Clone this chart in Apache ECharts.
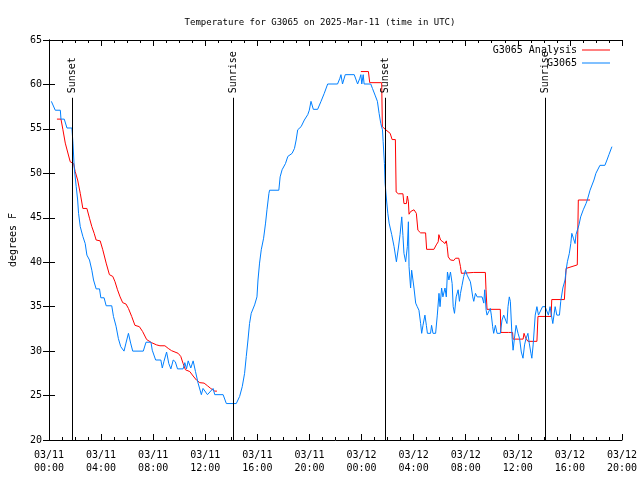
<!DOCTYPE html>
<html>
<head>
<meta charset="utf-8">
<script src="https://cdn.jsdelivr.net/npm/echarts@6/dist/echarts.min.js"></script>
<style>html,body{margin:0;padding:0;background:#fff}#c{width:640px;height:480px}</style>
</head>
<body>
<div id="c"></div>
<script>
// Hours since 2025-03-11 00:00 UTC
var blueHours = [0.18,0.48,0.87,0.92,1.17,1.38,1.76,1.84,1.94,2.09,2.2,2.27,2.4,2.6,2.78,2.91,3.11,3.29,3.42,3.62,3.88,3.98,4.23,4.39,4.82,4.95,5.15,5.33,5.51,5.76,5.91,6.1,6.27,6.43,7.24,7.45,7.83,7.93,8.19,8.59,8.7,8.82,9.03,9.2,9.36,9.54,9.7,9.87,10.3,10.43,10.56,10.69,10.89,11.07,11.25,11.45,11.7,11.83,12.17,12.6,12.73,13.37,13.62,14.38,14.64,14.84,15.02,15.15,15.28,15.4,15.53,15.79,15.97,16.05,16.17,16.3,16.48,16.63,16.74,16.89,16.94,17.65,17.75,17.9,18.16,18.34,18.67,18.85,18.98,19.1,19.36,19.61,19.87,19.99,20.12,20.3,20.63,20.89,21.14,21.4,22.16,22.34,22.42,22.54,22.75,23.44,23.7,23.87,23.95,24.02,24.13,24.2,24.71,24.84,25.04,25.22,25.35,25.48,25.61,25.66,25.76,25.81,25.92,26.02,26.12,26.32,26.5,26.68,26.83,26.96,27.09,27.18,27.26,27.39,27.52,27.6,27.65,27.77,27.85,27.95,28.03,28.16,28.28,28.41,28.54,28.62,28.72,28.87,28.98,29.06,29.3,29.38,29.49,29.69,29.82,29.95,30.03,30.15,30.25,30.41,30.51,30.6,30.71,30.83,30.96,31.04,31.14,31.27,31.42,31.52,31.6,31.72,31.85,31.98,32.11,32.36,32.44,32.54,32.62,32.75,32.88,33.26,33.39,33.46,33.57,33.64,33.89,33.97,34.07,34.15,34.28,34.41,34.66,34.79,34.92,35.05,35.17,35.25,35.35,35.43,35.56,35.64,35.74,35.87,36.02,36.14,36.27,36.4,36.52,36.63,36.78,36.88,37.01,37.08,37.18,37.34,37.47,37.59,37.9,38.1,38.35,38.48,38.69,38.87,39.0,39.2,39.3,39.46,39.63,39.71,39.81,39.96,40.07,40.15,40.27,40.4,40.47,40.57,40.7,40.83,41.03,41.24,41.34,41.55,41.85,42.0,42.31,42.69,42.85,43.0,43.23];
var blueTemps = [58.1,57.1,57.1,56.1,56.1,55.1,55.1,53.4,50.6,48.5,47.0,45.5,44.0,42.9,42.1,40.8,40.25,39.1,38.0,37.0,37.0,36.0,36.0,35.1,35.1,33.9,32.8,31.4,30.5,30.0,30.9,32.0,30.9,30.0,30.0,31.0,31.0,30.1,29.0,29.0,28.1,28.8,29.9,28.6,28.0,29.0,28.8,28.0,28.0,28.7,28.0,28.9,28.1,28.9,27.7,26.4,25.1,25.8,25.1,25.8,25.1,25.1,24.1,24.1,24.9,26.0,27.5,29.4,31.25,33.1,34.25,35.2,36.1,38.0,39.9,41.4,42.7,44.4,45.9,47.75,48.1,48.1,49.6,50.4,51.1,51.9,52.25,52.8,53.75,54.9,55.25,56.0,56.6,57.1,58.1,57.2,57.2,58.1,59.0,60.05,60.05,60.7,61.1,60.05,61.1,61.1,60.05,60.7,61.1,60.05,61.1,60.05,60.05,59.55,58.8,58.1,56.75,55.6,54.9,53.6,51.1,48.9,47.0,45.5,44.4,43.1,41.75,40.05,41.6,43.1,45.1,43.0,41.0,40.05,41.75,44.55,39.5,37.1,39.1,38.0,37.1,35.4,35.0,34.6,33.1,32.0,32.9,34.05,32.9,32.0,32.0,32.9,32.0,32.0,34.05,36.5,35.0,37.1,36.1,37.1,36.1,38.9,38.0,38.9,37.6,35.0,34.25,36.1,36.9,35.6,36.5,37.4,38.4,39.1,38.55,37.8,37.1,36.1,35.6,36.5,36.1,36.1,35.4,36.9,34.6,34.05,34.8,34.05,32.75,32.0,32.9,32.0,32.0,33.5,34.05,33.9,33.1,35.0,36.1,35.6,31.6,30.1,31.4,32.9,32.0,31.4,29.9,29.2,30.7,31.4,32.0,30.9,29.75,29.2,30.7,34.05,35.0,34.05,35.0,35.0,34.05,35.0,33.1,35.0,34.05,34.05,35.6,37.1,38.0,39.1,40.05,41.0,42.1,43.25,42.7,42.1,43.1,43.25,44.2,45.1,45.9,46.6,47.0,48.1,49.25,50.0,50.9,50.9,51.5,52.1,53.0];

var redHours = [0.61,0.92,1.07,1.25,1.43,1.63,1.89,2.01,2.2,2.4,2.6,2.91,3.11,3.29,3.47,3.62,3.93,4.13,4.39,4.64,4.9,5.07,5.26,5.46,5.66,5.91,6.1,6.35,6.6,6.94,7.19,7.5,7.88,8.26,8.52,8.9,9.16,9.41,9.92,10.12,10.3,10.48,10.81,11.07,11.32,11.58,11.91,12.17,12.42,12.73,12.9,
  18.0,
  23.95,24.53,24.63,25.55,25.6,25.86,26.2,26.35,26.6,26.66,26.83,27.18,27.26,27.45,27.52,27.6,27.65,27.77,27.9,28.03,28.21,28.33,28.54,28.92,29.0,29.56,29.74,29.89,29.94,30.07,30.25,30.41,30.51,30.58,30.66,30.83,31.09,31.22,31.47,31.6,31.67,32.62,33.51,33.56,33.64,34.66,34.7,35.28,35.6,35.64,36.41,36.48,36.6,36.78,37.47,37.55,38.56,38.61,39.58,39.71,39.81,40.57,40.65,41.55];
var redTemps = [56.1,56.1,54.9,53.4,52.4,51.3,51.1,50.2,49.25,47.75,46.05,46.05,44.95,44.0,43.25,42.5,42.4,41.4,39.9,38.6,38.4,37.8,36.9,36.1,35.45,35.3,34.8,33.9,32.9,32.75,32.2,31.3,30.95,30.7,30.6,30.6,30.3,30.05,29.75,29.4,28.6,27.9,27.7,27.2,26.75,26.45,26.4,26.1,25.8,25.5,25.5,
  null,
  61.45,61.45,60.2,60.2,55.25,54.9,54.5,53.8,53.8,47.9,47.7,47.7,46.6,46.6,47.45,46.8,45.4,45.7,45.5,45.9,45.5,43.6,43.3,43.3,41.45,41.45,41.95,42.3,43.1,42.5,42.3,42.1,42.4,41.75,40.6,40.25,40.2,40.45,40.45,39.5,38.75,38.85,38.85,36.9,34.7,34.7,32.1,32.1,32.1,31.35,31.35,32.0,31.5,31.1,31.1,33.9,33.9,35.8,35.8,39.3,39.5,39.7,47.0,47.0];

var sunHours = [1.76, 14.18, 25.81, 38.13];
var sunLabels = ['Sunset', 'Sunrise', 'Sunset', 'Sunrise'];

var dayLabels = ['03/11', '03/12'];
var yTicks = [20, 25, 30, 35, 40, 45, 50, 55, 60, 65];

var FONT = 'DejaVu Sans Mono';

function pair(xs, ys) {
  var out = [];
  for (var i = 0; i < xs.length; i++) out.push([xs[i], ys[i]]);
  return out;
}
function fmtHour(h) {
  var d = Math.floor(h / 24);
  var hh = Math.round(h - d * 24);
  if (d >= dayLabels.length) return '';
  return dayLabels[d] + '\n' + (hh < 10 ? '0' : '') + hh + ':00';
}

var chart = echarts.init(document.getElementById('c'), null, {renderer: 'canvas'});

var axisLine = {show: true, lineStyle: {color: '#000', width: 1}};
var option = {
  animation: false,
  backgroundColor: '#fff',
  title: {
    text: 'Temperature for G3065 on 2025-Mar-11 (time in UTC)',
    left: 'center', top: 13,
    textStyle: {fontFamily: FONT, fontSize: 9, fontWeight: 'normal', color: '#000'}
  },
  legend: [
    {data: ['G3065 Analysis'], right: 25, top: 40, align: 'right', icon: 'rect', itemWidth: 28, itemHeight: 1, itemGap: 0,
     textStyle: {fontFamily: FONT, fontSize: 10, color: '#000'}},
    {data: ['G3065'], right: 25, top: 53, align: 'right', icon: 'rect', itemWidth: 28, itemHeight: 1, itemGap: 0,
     textStyle: {fontFamily: FONT, fontSize: 10, color: '#000'}}
  ],
  grid: {left: 47, right: 18, top: 40, bottom: 40, containLabel: false},
  xAxis: [
    {type: 'value', min: 0, max: 44, interval: 4, position: 'bottom',
     axisLine: axisLine,
     axisTick: {show: true, inside: true, length: 6, lineStyle: {color: '#000'}},
     minorTick: {show: true, splitNumber: 4, length: 3, lineStyle: {color: '#000'}},
     splitLine: {show: false},
     axisLabel: {formatter: fmtHour, fontFamily: FONT, fontSize: 10, color: '#000', margin: 9, lineHeight: 13}},
    {type: 'value', min: 0, max: 44, interval: 4, position: 'top',
     axisLine: axisLine,
     axisTick: {show: true, inside: true, length: 6, lineStyle: {color: '#000'}},
     minorTick: {show: true, splitNumber: 4, length: 3, lineStyle: {color: '#000'}},
     splitLine: {show: false}, axisLabel: {show: false}}
  ],
  yAxis: [
    {type: 'value', min: yTicks[0], max: yTicks[yTicks.length - 1], interval: 5, position: 'left',
     name: 'degrees F', nameLocation: 'middle', nameGap: 31,
     nameTextStyle: {fontFamily: FONT, fontSize: 10, color: '#000'},
     axisLine: axisLine,
     axisTick: {show: true, inside: true, length: 6, lineStyle: {color: '#000'}},
     splitLine: {show: false},
     axisLabel: {fontFamily: FONT, fontSize: 10, color: '#000', margin: 7}},
    {type: 'value', min: yTicks[0], max: yTicks[yTicks.length - 1], interval: 5, position: 'right',
     axisLine: axisLine,
     axisTick: {show: true, inside: true, length: 6, lineStyle: {color: '#000'}},
     splitLine: {show: false}, axisLabel: {show: false}}
  ],
  series: [
    {name: 'G3065 Analysis', type: 'line', xAxisIndex: 0, yAxisIndex: 0,
     data: pair(redHours, redTemps), showSymbol: false, symbol: 'none', connectNulls: false,
     lineStyle: {color: '#ff0000', width: 1}, itemStyle: {color: '#ff0000'}, z: 2},
    {name: 'G3065', type: 'line', xAxisIndex: 0, yAxisIndex: 0,
     data: pair(blueHours, blueTemps), showSymbol: false, symbol: 'none',
     lineStyle: {color: '#0080ff', width: 1}, itemStyle: {color: '#0080ff'}, z: 3},
    {name: 'sun', type: 'line', xAxisIndex: 0, yAxisIndex: 0, data: [], z: 4,
     markLine: {
       silent: true, symbol: ['none', 'none'], animation: false,
       lineStyle: {color: '#000', width: 1, type: 'solid'},
       label: {show: false},
       data: sunHours.map(function (h) { return [{coord: [h, 20]}, {coord: [h, 58.5]}]; })
     },
     markPoint: {
       silent: true, symbol: 'circle', symbolSize: 0, animation: false,
       label: {show: true, formatter: '{b}', position: 'inside', rotate: 90, align: 'left', verticalAlign: 'middle',
               fontFamily: FONT, fontSize: 10, color: '#000'},
       itemStyle: {color: 'transparent'},
       data: sunHours.map(function (h, i) { return {name: sunLabels[i], coord: [h, 59.0]}; })
     }}
  ]
};
chart.setOption(option);
</script>
</body>
</html>
